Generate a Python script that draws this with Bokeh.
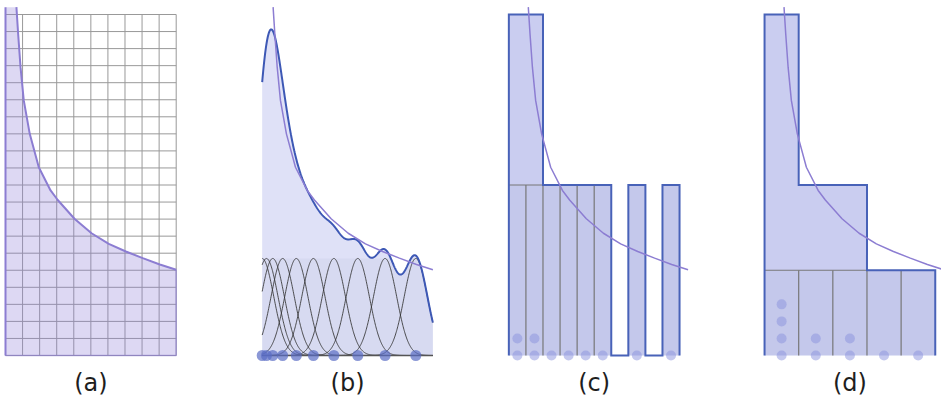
import numpy as np
from bokeh.plotting import figure
from bokeh.models import Range1d, Label
from bokeh.embed import file_html
from bokeh.resources import INLINE

# ---------------- data (grid cells; x from panel left, y from baseline) ----------------
# reference density curve
curve_x = [0.64, 0.74, 0.88, 1.07, 1.42, 1.95, 2.64, 3.06, 4.04, 5.04, 6.05, 7.05, 8.04, 9.04, 10.0]
curve_y = [20.43, 18.87, 16.91, 14.96, 13.00, 11.04, 9.68, 9.12, 8.02, 7.17, 6.55, 6.10, 5.71, 5.34, 5.03]

# panel (b): sample positions and kernel
samples_b = [0.0, 0.25, 0.62, 1.2, 2.0, 3.0, 4.2, 5.6, 7.2, 9.0]
kernel_height = 5.69
kernel_sigma = 0.68

# panel (c): histogram with bin width 1
counts_c = [2, 2, 1, 1, 1, 1, 0, 1, 0, 1]
binw_c = 1.0
# panel (d): histogram with bin width 2
counts_d = [4, 2, 2, 1, 1]
binw_d = 2.0
block_area = 10.0

labels = ["(a)", "(b)", "(c)", "(d)"]

# ---------------- layout / style ----------------
UX, UY = 17.07, 17.05
W, H = 941, 396
BASE = 355.0                      # pixel row of the common baseline
PANEL_X = [0.293, 15.33, 29.78, 44.76]
CURVE_SHIFT = [0.0, 0.0, 0.5, 0.5]
PURPLE = "#8c7dd2"
BLUE = "#4862b8"
GRAYLINE = "#777777"

p = figure(width=W, height=H, output_backend="svg", toolbar_location=None,
           x_range=Range1d(0, W / UX), y_range=Range1d((BASE - H) / UY, BASE / UY),
           x_axis_type=None, y_axis_type=None, min_border=0,
           outline_line_color=None)
p.grid.visible = False
p.background_fill_color = "white"
p.border_fill_color = "white"

cx = np.array(curve_x)
cy = np.array(curve_y)

# ---------------- panel (a) ----------------
ox = PANEL_X[0]
gx = [[ox + i, ox + i] for i in range(11)] + [[ox, ox + 10] for j in range(21)]
gy = [[0, 20] for i in range(11)] + [[j, j] for j in range(21)]
p.multi_line(gx, gy, line_color="#999999", line_width=1)
px_ = [ox, ox] + list(ox + cx) + [ox + 10]
py_ = [0, cy[0]] + list(cy) + [0]
p.patch(px_, py_, fill_color="#8e7fd8", fill_alpha=0.3, line_color=None)
p.line([ox + 10, ox + 10, ox], [cy[-1], 0, 0], line_color=PURPLE, line_alpha=0.6, line_width=1.5)
p.line([ox, ox], [0, cy[0]], line_color=PURPLE, line_width=2)
p.line(ox + cx, cy, line_color=PURPLE, line_width=2)

# ---------------- panel (b) ----------------
ox = PANEL_X[1]
xs = np.linspace(0, 10, 501)
kern = [kernel_height * np.exp(-(xs - c) ** 2 / (2 * kernel_sigma ** 2)) for c in samples_b]
kde = np.sum(kern, axis=0)
p.varea(x=ox + xs, y1=0, y2=kde, fill_color="#dfe1f7")
p.varea(x=ox + xs, y1=0, y2=np.minimum(kde, kernel_height), fill_color="#6a6f99", fill_alpha=0.06)
p.multi_line([list(ox + xs)] * len(kern), [list(k) for k in kern],
             line_color="#333333", line_width=1, line_alpha=0.85)
p.line([ox, ox + 10], [0, 0], line_color="#555555", line_width=1.3)
p.line(ox + xs, kde, line_color="#3d58b5", line_width=2)
p.line(ox + CURVE_SHIFT[1] + cx, cy, line_color=PURPLE, line_width=1.5)
p.scatter(ox + np.array(samples_b), np.zeros(len(samples_b)), size=11,
          fill_color="#5a6cc4", fill_alpha=0.7, line_color=None)


def histogram(ox, counts, bw, shift):
    counts = np.array(counts)
    h = block_area / bw
    lefts = ox + np.arange(len(counts)) * bw
    rights = lefts + bw
    heights = counts * h
    # step outline (also used as the filled area)
    ox_, oy_ = [lefts[0]], [0]
    for l, r, t in zip(lefts, rights, heights):
        ox_ += [l, r]; oy_ += [t, t]
    ox_.append(rights[-1]); oy_.append(0)
    p.patch(ox_, oy_, fill_color="#cacdf0", line_color=None)
    filled = counts > 0
    p.quad(left=lefts[filled], right=rights[filled], bottom=0, top=h,
           fill_color="#6a6f99", fill_alpha=0.05, line_color=None)
    # internal dividers of the bottom layer
    sx, sy = [], []
    for i in range(1, len(counts)):
        if counts[i - 1] > 0 and counts[i] > 0:
            sx.append([lefts[i], lefts[i]]); sy.append([0, h])
    for i in range(len(counts)):
        if counts[i] > 1:
            sx.append([lefts[i], rights[i]]); sy.append([h, h])
    p.multi_line(sx, sy, line_color=GRAYLINE, line_width=1.2)
    p.line(ox_, oy_, line_color=BLUE, line_width=2, line_join="miter")
    # stacked dots
    dx, dy = [], []
    for i, c in enumerate(counts):
        for k in range(c):
            dx.append(lefts[i] + bw / 2); dy.append(k * 1.0)
    p.scatter(dx, dy, size=10, fill_color="#8a92de", fill_alpha=0.5, line_color=None)
    p.line(ox + shift + cx, cy, line_color=PURPLE, line_width=1.5)


histogram(PANEL_X[2], counts_c, binw_c, CURVE_SHIFT[2])
histogram(PANEL_X[3], counts_d, binw_d, CURVE_SHIFT[3])

# ---------------- labels ----------------
for ox, t in zip(PANEL_X, labels):
    p.add_layout(Label(x=ox + 5, y=(BASE - 382.5) / UY, text=t, text_align="center",
                       text_baseline="middle", text_font="DejaVu Sans",
                       text_font_size="24px", text_color="#1e1e1e"))

open("out.html", "w").write(file_html(p, INLINE))
